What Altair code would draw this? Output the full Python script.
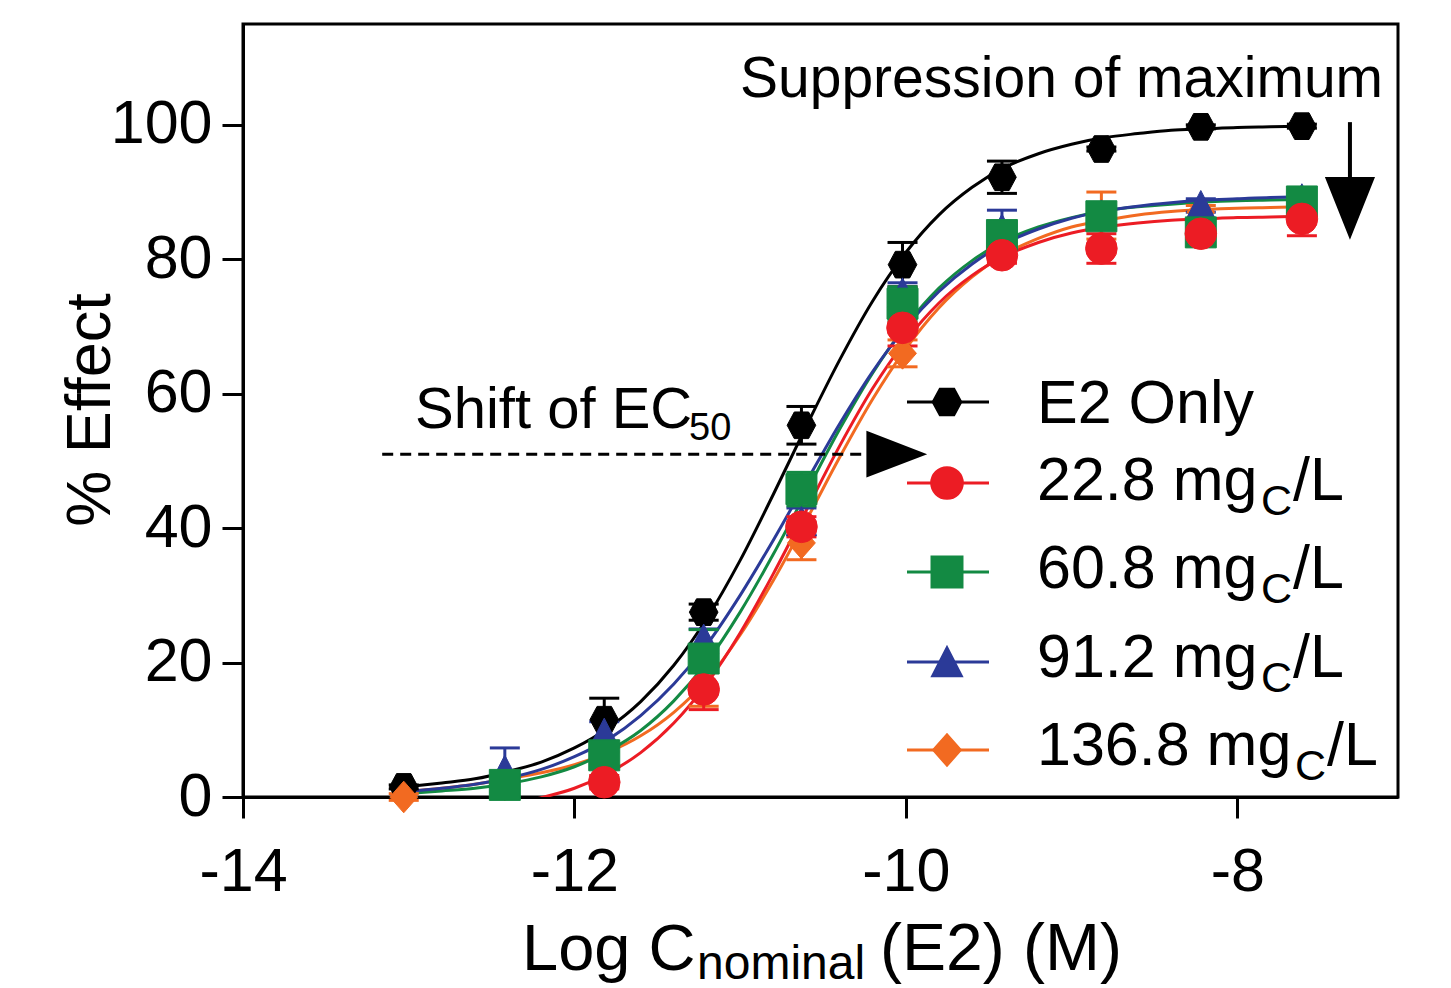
import altair as alt
import pandas as pd

# ---------------- data ----------------
LOG_DOSE = [-13.03, -12.42, -11.82, -11.22, -10.63, -10.02, -9.42, -8.82, -8.22, -7.61]

SERIES_KEYS = ["e2", "c228", "c608", "c912", "c1368"]
SERIES_NAMES = ["E2 Only", "22.8 mg", "60.8 mg", "91.2 mg", "136.8 mg"]
SERIES_COLORS = ["#000000", "#ec1c24", "#138a43", "#2b3a98", "#f26a21"]

# None = point not visible in the picture
E2_ONLY = [1.5, 2.0, 11.5, 27.5, 55.3, 79.2, 92.2, 96.4, 99.7, 99.8]
E2_ONLY_ERR = [0.3, 0.5, 3.2, 1.2, 2.8, 3.3, 2.4, 0.3, 0.3, 0.3]
C228 = [None, None, 2.2, 16.0, 40.2, 69.8, 80.6, 81.6, 83.8, 86.0]
C228_ERR = [0.0, 0.0, 1.0, 3.0, 1.5, 2.7, 1.2, 2.2, 1.0, 2.5]
C608 = [None, 1.8, 6.2, 20.6, 45.8, 73.4, 83.6, 86.4, 84.0, 88.6]
C608_ERR = [0.0, 1.0, 1.5, 4.3, 2.5, 2.5, 1.5, 1.5, 1.5, 1.0]
C912 = [None, 4.0, 9.5, 23.5, 41.0, 75.0, 84.5, 86.6, 88.0, 89.0]
C912_ERR = [0.0, 3.3, 1.7, 1.5, 2.0, 1.5, 2.8, 1.2, 1.0, 0.8]
C1368 = [0.0, 1.8, 5.5, 16.5, 37.8, 66.0, 81.2, 86.5, 87.0, 88.0]
C1368_ERR = [0.5, 1.0, 1.2, 3.0, 2.5, 2.0, 1.5, 3.5, 1.0, 1.0]

# fitted curves
CURVE_X = [-13.03, -12.8, -12.6, -12.4, -12.2, -12.0, -11.8, -11.6, -11.4, -11.2,
           -11.0, -10.8, -10.6, -10.4, -10.2, -10.0, -9.8, -9.6, -9.4, -9.2,
           -9.0, -8.8, -8.6, -8.4, -8.2, -8.0, -7.8, -7.61]
CURVE_E2 = [1.5, 2.1, 2.7, 3.8, 5.2, 7.3, 10.2, 14.2, 19.6, 26.6,
            35.2, 45.0, 55.2, 65.0, 73.8, 81.0, 86.6, 90.7, 93.7, 95.7,
            97.1, 98.1, 98.7, 99.2, 99.4, 99.6, 99.7, 99.8]
CURVE_C228 = [-2.5, -2.2, -1.8, -1.1, -0.1, 1.3, 3.5, 6.6, 11.0, 16.9,
              24.4, 33.2, 42.7, 52.2, 60.8, 67.9, 73.5, 77.6, 80.5, 82.5,
              83.9, 84.8, 85.4, 85.8, 86.0, 86.2, 86.3, 86.4]
CURVE_C608 = [0.5, 0.9, 1.3, 2.0, 3.0, 4.5, 6.8, 9.9, 14.3, 20.1,
              27.5, 36.1, 45.4, 54.7, 63.1, 70.1, 75.7, 79.8, 82.8, 84.8,
              86.2, 87.2, 87.8, 88.2, 88.5, 88.7, 88.8, 88.9]
CURVE_C912 = [0.8, 1.3, 1.9, 2.8, 4.1, 6.0, 8.5, 12.1, 16.8, 22.7,
              30.0, 38.2, 46.9, 55.5, 63.3, 69.9, 75.2, 79.3, 82.4, 84.5,
              86.1, 87.2, 87.9, 88.4, 88.8, 89.0, 89.2, 89.3]
CURVE_C1368 = [0.8, 1.3, 1.9, 2.7, 3.6, 4.8, 6.6, 9.1, 12.6, 17.4,
               24.1, 32.2, 41.2, 50.5, 59.2, 66.7, 72.8, 77.4, 80.8, 83.1,
               84.8, 85.8, 86.6, 87.1, 87.4, 87.6, 87.7, 87.8]

X_TICKS = [-14, -12, -10, -8]
Y_TICKS = [0, 20, 40, 60, 80, 100]

# annotation levels (data units)
EC50_LEVEL = 51.0
EC50_LINE_X = [-13.16, -10.24]
EC50_ARROW_X = -10.06
SUPP_X = -7.32
SUPP_LINE_Y = [100.4, 92.0]
SUPP_HEAD_Y = 87.7

# ---------------- tables ----------------
points = {"e2": (E2_ONLY, E2_ONLY_ERR), "c228": (C228, C228_ERR), "c608": (C608, C608_ERR),
          "c912": (C912, C912_ERR), "c1368": (C1368, C1368_ERR)}
curves = {"e2": CURVE_E2, "c228": CURVE_C228, "c608": CURVE_C608,
          "c912": CURVE_C912, "c1368": CURVE_C1368}

rows = []
for k in SERIES_KEYS:
    vals, errs = points[k]
    for x, y, e in zip(LOG_DOSE, vals, errs):
        if y is None:
            continue
        rows.append({"g": k, "x": x, "y": y, "lo": y - e, "hi": y + e})
pts = pd.DataFrame(rows)

crow = []
for k in SERIES_KEYS:
    for x, y in zip(CURVE_X, curves[k]):
        crow.append({"g": k, "x": x, "y": y})
cdf = pd.DataFrame(crow)

HEX = "M-1,0L-0.5,-0.93L0.5,-0.93L1,0L0.5,0.93L-0.5,0.93Z"
TRI = "M0,-1L1,0.95L-1,0.95Z"
DIA = "M-0.88,0L0,-1L0.88,0L0,1Z"
SHAPES = {"e2": (HEX, 820), "c228": ("circle", 1000), "c608": ("square", 960),
          "c912": (TRI, 900), "c1368": (DIA, 1000)}
COL = dict(zip(SERIES_KEYS, SERIES_COLORS))

FONT = "Liberation Sans"
xs = alt.Scale(domain=[-14, -7.03], nice=False, zero=False)
ys = alt.Scale(domain=[0, 115], nice=False, zero=False)

LINE_ORDER = ["e2", "c1368", "c228", "c608", "c912"]
POINT_ORDER = ["e2", "c1368", "c912", "c608", "c228"]

base_axes = alt.Chart(pts).mark_point(opacity=0).encode(
    x=alt.X("x:Q", scale=xs, axis=alt.Axis(values=X_TICKS, title=None, labelExpr="'' + datum.value",
                                          labelPadding=24, labelFlush=False)),
    y=alt.Y("y:Q", scale=ys, axis=alt.Axis(values=Y_TICKS, title=None, labelPadding=10)),
)

layers = [base_axes]
for k in LINE_ORDER:
    layers.append(
        alt.Chart(cdf).transform_filter(alt.datum.g == k).mark_line(
            color=COL[k], strokeWidth=3, clip=True, interpolate="monotone"
        ).encode(x=alt.X("x:Q", scale=xs), y=alt.Y("y:Q", scale=ys), order="x:Q")
    )
for k in POINT_ORDER:
    sub = alt.Chart(pts).transform_filter(alt.datum.g == k)
    layers.append(sub.mark_rule(color=COL[k], strokeWidth=3).encode(
        x=alt.X("x:Q", scale=xs), y=alt.Y("lo:Q", scale=ys), y2="hi:Q"))
    for fld in ["lo", "hi"]:
        layers.append(sub.mark_point(shape="M-1,0L1,0", size=900, filled=False,
                                     stroke=COL[k], strokeWidth=3, opacity=1).encode(
            x=alt.X("x:Q", scale=xs), y=alt.Y(f"{fld}:Q", scale=ys)))
for k in POINT_ORDER:
    shp, sz = SHAPES[k]
    layers.append(alt.Chart(pts).transform_filter(alt.datum.g == k).mark_point(
        shape=shp, size=sz, filled=True, fill=COL[k], stroke=COL[k], strokeWidth=1, opacity=1
    ).encode(x=alt.X("x:Q", scale=xs), y=alt.Y("y:Q", scale=ys)))

# ---------------- annotations ----------------
ann_line = pd.DataFrame({"x": [EC50_LINE_X[0]], "x2": [EC50_LINE_X[1]], "y": [EC50_LEVEL]})
layers.append(alt.Chart(ann_line).mark_rule(color="black", strokeWidth=3, strokeDash=[11, 7]).encode(
    x=alt.X("x:Q", scale=xs), x2="x2:Q", y=alt.Y("y:Q", scale=ys)))
ann_head = pd.DataFrame({"x": [EC50_ARROW_X], "y": [EC50_LEVEL]})
layers.append(alt.Chart(ann_head).mark_point(shape="M-1,-0.77L1,0L-1,0.77Z", size=3250, filled=True,
                                             fill="black", stroke="black", opacity=1).encode(
    x=alt.X("x:Q", scale=xs), y=alt.Y("y:Q", scale=ys)))
supp_line = pd.DataFrame({"x": [SUPP_X], "y": [SUPP_LINE_Y[0]], "y2": [SUPP_LINE_Y[1]]})
layers.append(alt.Chart(supp_line).mark_rule(color="black", strokeWidth=4).encode(
    x=alt.X("x:Q", scale=xs), y=alt.Y("y:Q", scale=ys), y2="y2:Q"))
supp_head = pd.DataFrame({"x": [SUPP_X], "y": [SUPP_HEAD_Y]})
layers.append(alt.Chart(supp_head).mark_point(shape="M-0.8,-1L0.8,-1L0,1Z", size=3480, filled=True,
                                              fill="black", stroke="black", opacity=1).encode(
    x=alt.X("x:Q", scale=xs), y=alt.Y("y:Q", scale=ys)))


def txt(s, x, y, size, angle=0, align="left", baseline="alphabetic"):
    return alt.Chart(pd.DataFrame({"t": [s]})).mark_text(
        text=s, font=FONT, fontSize=size, color="black", align=align, baseline=baseline, angle=angle
    ).encode(x=alt.value(x), y=alt.value(y))


layers.append(txt("Suppression of maximum", 497, 73, 57))
layers.append(txt("Shift of EC", 172, 404, 58))
layers.append(txt("50", 446, 416, 38))

# axis titles
layers.append(txt("% Effect", -133, 386, 63, angle=270, align="center"))
layers.append(txt("Log C", 279, 946, 65))
layers.append(txt("nominal", 454, 955, 48))
layers.append(txt("(E2) (M)", 637, 946, 66))

# legend
LEG_LINE_Y = [378, 459, 548, 638, 726]
LEG_TEXT_Y = [399, 476, 564, 653, 741]
for i, k in enumerate(SERIES_KEYS):
    ly = LEG_LINE_Y[i]
    layers.append(alt.Chart(pd.DataFrame({"a": [0]})).mark_rule(color=COL[k], strokeWidth=3).encode(
        x=alt.value(664), x2=alt.value(746), y=alt.value(ly)))
    shp, sz = SHAPES[k]
    layers.append(alt.Chart(pd.DataFrame({"a": [0]})).mark_point(
        shape=shp, size=sz, filled=True, fill=COL[k], stroke=COL[k], opacity=1).encode(
        x=alt.value(704), y=alt.value(ly)))
    ty = LEG_TEXT_Y[i]
    layers.append(txt(SERIES_NAMES[i], 794, ty, 61))
    if k != "e2":
        off = 34 if k == "c1368" else 0
        layers.append(txt("C", 1018 + off, ty + 15, 43))
        layers.append(txt("/L", 1050 + off, ty, 61))

chart = alt.layer(*layers).properties(
    width=1155, height=773,
    autosize=alt.AutoSizeParams(type="none"),
    padding={"left": 243, "top": 24, "right": 53, "bottom": 191},
    background="white",
).configure_view(stroke="black", strokeWidth=3).configure_axis(
    domainColor="black", domainWidth=3, tickColor="black", tickWidth=3, tickSize=21,
    labelColor="black", labelFont=FONT, labelFontSize=61, grid=False,
)

chart.save("out.html", embed_options={"renderer": "svg", "actions": False})
